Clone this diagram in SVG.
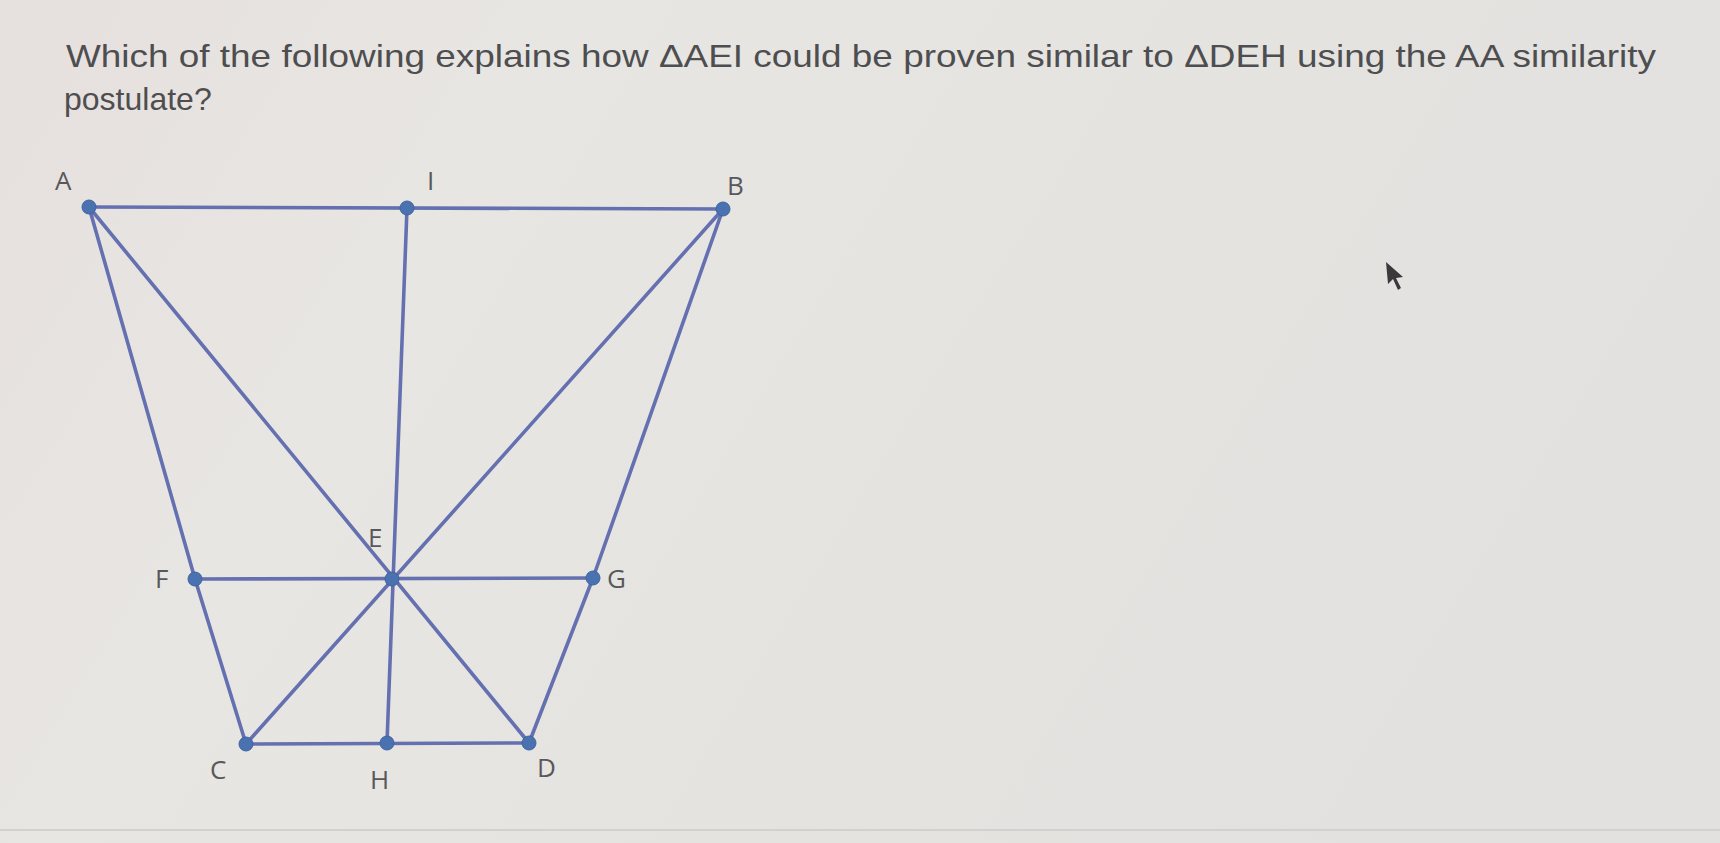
<svg xmlns="http://www.w3.org/2000/svg" width="1720" height="843" viewBox="0 0 1720 843">
<defs>
<linearGradient id="bg" x1="0" y1="0" x2="1" y2="0.3">
<stop offset="0" stop-color="#e6e0de"/>
<stop offset="0.3" stop-color="#e8e6e2"/>
<stop offset="1" stop-color="#e2e1df"/>
</linearGradient>
<style>
.q{font-family:"Liberation Sans",Arial,sans-serif;font-size:32px;fill:#4e4e50}
.seg{stroke:#6470b0;stroke-width:3.6;stroke-linecap:round;fill:none}
.pt{fill:#4a72b0;stroke:#3e64a0;stroke-width:1}
.lbl{font-family:"Open Sans","Liberation Sans",sans-serif;font-size:26px;fill:#58585c}
</style>
</defs>
<rect width="1720" height="843" fill="url(#bg)"/>
<line x1="0" y1="830" x2="1720" y2="830" stroke="#d2d1cf" stroke-width="2"/>
<text class="q" x="66" y="67" textLength="1590" lengthAdjust="spacingAndGlyphs">Which of the following explains how ΔAEI could be proven similar to ΔDEH using the AA similarity</text>
<text class="q" x="64" y="110">postulate?</text>
<g id="connectors">
<line class="seg" x1="89" y1="207" x2="723" y2="209"/>
<line class="seg" x1="89" y1="207" x2="195" y2="579"/>
<line class="seg" x1="195" y1="579" x2="246" y2="744"/>
<line class="seg" x1="89" y1="207" x2="529" y2="743"/>
<line class="seg" x1="407" y1="208" x2="387" y2="743"/>
<line class="seg" x1="723" y1="209" x2="246" y2="744"/>
<line class="seg" x1="723" y1="209" x2="593" y2="578"/>
<line class="seg" x1="593" y1="578" x2="529" y2="743"/>
<line class="seg" x1="195" y1="579" x2="593" y2="578"/>
<line class="seg" x1="246" y1="744" x2="529" y2="743"/>
</g>
<g id="A"><circle class="pt" cx="89" cy="207" r="7"/><text class="lbl" x="55" y="190">A</text></g>
<g id="I"><circle class="pt" cx="407" cy="208" r="7"/><text class="lbl" x="427" y="190">I</text></g>
<g id="B"><circle class="pt" cx="723" cy="209" r="7"/><text class="lbl" x="727" y="195">B</text></g>
<g id="E"><circle class="pt" cx="392" cy="579" r="7"/><text class="lbl" x="368" y="547">E</text></g>
<g id="F"><circle class="pt" cx="195" cy="579" r="7"/><text class="lbl" x="155" y="588">F</text></g>
<g id="G"><circle class="pt" cx="593" cy="578" r="7"/><text class="lbl" x="607" y="588">G</text></g>
<g id="C"><circle class="pt" cx="246" cy="744" r="7"/><text class="lbl" x="210" y="779">C</text></g>
<g id="H"><circle class="pt" cx="387" cy="743" r="7"/><text class="lbl" x="370" y="789">H</text></g>
<g id="D"><circle class="pt" cx="529" cy="743" r="7"/><text class="lbl" x="537" y="777">D</text></g>
<polygon points="1386,262 1388,284 1393,279 1398,290 1401,288 1396,278 1403,277" fill="#3a3a3c"/>
</svg>
